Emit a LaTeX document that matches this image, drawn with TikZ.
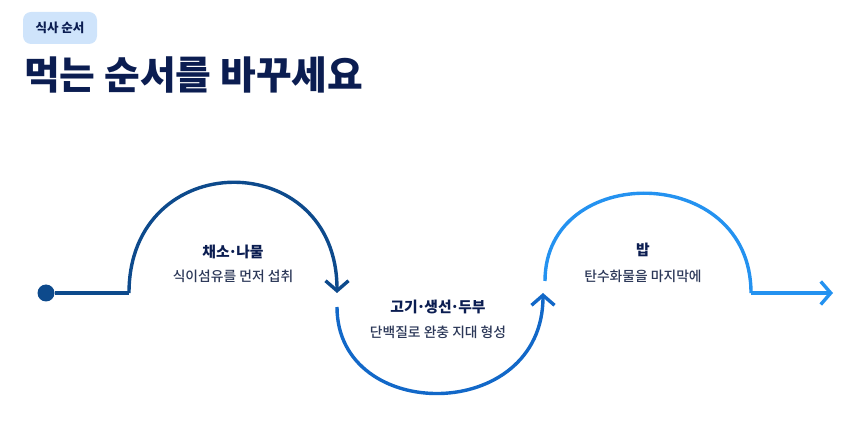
\documentclass[tikz,border=0pt]{standalone}
\usepackage{fontspec}
\setmainfont{Noto Sans CJK KR}
\newfontfamily\krblack{Noto Sans CJK KR Black}
\newfontfamily\krmedium{Noto Sans CJK KR Medium}
\usetikzlibrary{arrows.meta}
\definecolor{navy}{HTML}{0B1D51}
\definecolor{subtext}{HTML}{2C3858}
\definecolor{badgefill}{HTML}{CFE4FB}
\definecolor{stepone}{HTML}{0D4A8C}
\definecolor{steptwo}{HTML}{1268C8}
\definecolor{stepthree}{HTML}{2492F0}
\newcommand\middot{\kern-0.08em·\kern-0.08em}

\begin{document}
\begin{tikzpicture}[x=1pt,y=-1pt,
   badge/.style={fill=badgefill,rounded corners=8pt,minimum width=74pt,minimum height=32pt,
      inner sep=0pt,text=navy,font=\bfseries\fontsize{12.5}{14}\selectfont},
   headline/.style={anchor=west,inner sep=0pt,text=navy,font=\krblack\fontsize{38.8}{42}\selectfont},
   head/.style={inner sep=0pt,text=navy,font=\bfseries\fontsize{14.8}{17}\selectfont},
   sub/.style={inner sep=0pt,text=subtext,font=\krmedium\fontsize{13.8}{15}\selectfont},
   dot/.style={circle,fill=stepone,minimum size=17pt,inner sep=0pt},
   wave/.style={line width=3.4pt},
   tip/.style={-{Straight Barb[length=10pt,width=23pt]}}]
\useasboundingbox (0,0) rectangle (860,422);

\node[badge] (tag) at (60,28) {식사 순서};
\node[headline] (title) at (24,75) {먹는 순서를 바꾸세요};

% the path of the meal
\node[dot] (start) at (46,293) {};
\coordinate (up1) at (129,293);
\coordinate (down1) at (337,293);
\coordinate (down2) at (337,307);
\coordinate (up2) at (543,293);
\coordinate (up3) at (545,281);
\coordinate (down3) at (751,293);
\coordinate (finish) at (833,293);

\draw[wave,stepone] (start) -- (up1);
\draw[wave,stepone,tip] (up1) .. controls (129,146) and (337,146) .. (down1);
\draw[wave,steptwo,tip] (down2) .. controls (337,424) and (543,424) .. (up2);
\draw[wave,stepthree] (up3) .. controls (545,162) and (751,162) .. (down3);
\draw[wave,stepthree,tip] (down3) -- (finish);

\node[head] (veg) at (233,252) {채소\middot 나물};
\node[sub] (vegsub) at (233,276) {식이섬유를 먼저 섭취};
\node[head] (meat) at (438,307) {고기\middot 생선\middot 두부};
\node[sub] (meatsub) at (438,332) {단백질로 완충 지대 형성};
\node[head] (rice) at (643,250) {밥};
\node[sub] (ricesub) at (643,276) {탄수화물을 마지막에};
\end{tikzpicture}
\end{document}
